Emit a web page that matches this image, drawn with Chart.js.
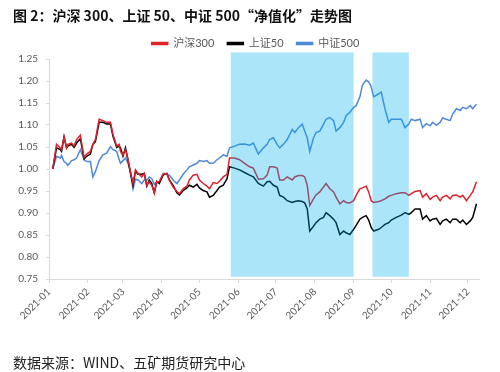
<!DOCTYPE html>
<html>
<head>
<meta charset="utf-8">
<script src="https://cdn.jsdelivr.net/npm/chart.js@4/dist/chart.umd.min.js"></script>
<style>
  html, body { margin: 0; padding: 0; background: #fff; }
  #wrap { position: relative; width: 500px; height: 372px; overflow: hidden; }
  #title { position: absolute; left: 13px; top: 5px; font: bold 14px "Noto Sans CJK SC", sans-serif; color: #111; white-space: nowrap; }
  #source { position: absolute; left: 13px; top: 352px; font: 14px "Noto Sans CJK SC", sans-serif; color: #222; white-space: nowrap; }
  canvas { position: absolute; left: 0; top: 0; }
</style>
</head>
<body>
<div id="wrap">
  <canvas id="c" width="500" height="372"></canvas>
  <div id="title">图 2：沪深 300、上证 50、中证 500“净值化”走势图</div>
  <div id="source">数据来源：WIND、五矿期货研究中心</div>
</div>
<script>
const seriesNames = ["沪深300", "上证50", "中证500"];
const dates = ["2021-01-04","2021-01-07","2021-01-10","2021-01-11","2021-01-13","2021-01-15","2021-01-16","2021-01-19","2021-01-21","2021-01-23","2021-01-26","2021-01-29","2021-01-31",
"2021-02-03","2021-02-05","2021-02-07","2021-02-10","2021-02-13","2021-02-16","2021-02-19","2021-02-21","2021-02-24","2021-02-26","2021-02-27",
"2021-03-01","2021-03-03","2021-03-05","2021-03-07","2021-03-09","2021-03-11","2021-03-13","2021-03-16","2021-03-18","2021-03-20","2021-03-22","2021-03-24","2021-03-26","2021-03-28","2021-03-30",
"2021-04-02","2021-04-05","2021-04-07","2021-04-10","2021-04-13","2021-04-15","2021-04-18","2021-04-21","2021-04-23","2021-04-26","2021-04-29",
"2021-05-01","2021-05-04","2021-05-07","2021-05-09","2021-05-12","2021-05-15","2021-05-17","2021-05-20","2021-05-23","2021-05-25",
"2021-05-29",
"2021-06-02","2021-06-06","2021-06-10","2021-06-13","2021-06-17","2021-06-21","2021-06-24","2021-06-26","2021-06-29",
"2021-07-02","2021-07-04","2021-07-07","2021-07-10","2021-07-14","2021-07-16","2021-07-19","2021-07-22","2021-07-24","2021-07-26","2021-07-28","2021-07-31",
"2021-08-02","2021-08-05","2021-08-08","2021-08-10","2021-08-13","2021-08-16","2021-08-18","2021-08-21","2021-08-24","2021-08-26","2021-08-29",
"2021-09-01","2021-09-03","2021-09-06","2021-09-08","2021-09-11","2021-09-13","2021-09-15","2021-09-17","2021-09-21","2021-09-23","2021-09-26","2021-09-29",
"2021-10-01","2021-10-05","2021-10-09","2021-10-12","2021-10-15","2021-10-17","2021-10-20","2021-10-24","2021-10-26","2021-10-29",
"2021-11-01","2021-11-03","2021-11-06","2021-11-09","2021-11-11","2021-11-14","2021-11-17","2021-11-19","2021-11-22","2021-11-25","2021-11-27","2021-11-30",
"2021-12-03","2021-12-05","2021-12-08"];

const hs300 = [1.000,1.056,1.048,1.044,1.073,1.048,1.056,1.059,1.052,1.067,1.077,1.026,1.034,
1.040,1.056,1.067,1.113,1.110,1.106,1.106,1.079,1.052,1.056,1.040,
1.032,1.044,1.021,0.994,0.967,0.998,0.990,0.982,0.990,0.963,0.971,0.963,0.946,0.971,0.971,
0.988,0.990,0.975,0.959,0.949,0.944,0.955,0.961,0.975,0.986,0.988,
0.975,0.967,0.961,0.955,0.969,0.967,0.972,0.982,0.988,1.025,
1.025,
1.021,1.013,1.005,1.002,0.977,0.978,0.986,1.005,1.005,
1.002,0.975,0.975,0.982,0.975,0.982,0.985,0.985,0.982,0.963,0.917,0.932,
0.941,0.948,0.959,0.967,0.955,0.948,0.936,0.921,0.928,0.924,0.923,
0.928,0.940,0.955,0.957,0.961,0.948,0.928,0.924,0.926,0.928,0.932,0.938,
0.940,0.944,0.946,0.946,0.940,0.944,0.949,0.951,0.936,0.944,
0.931,0.936,0.940,0.928,0.936,0.940,0.932,0.940,0.941,0.936,0.940,0.928,
0.940,0.948,0.971];

const sz50 = [1.000,1.048,1.044,1.040,1.073,1.048,1.052,1.056,1.049,1.059,1.069,1.023,1.029,
1.034,1.056,1.062,1.106,1.106,1.102,1.102,1.075,1.049,1.052,1.048,
1.029,1.048,1.021,0.990,0.963,0.995,0.988,0.988,0.990,0.961,0.975,0.967,0.946,0.972,0.967,
0.986,0.990,0.975,0.963,0.946,0.941,0.951,0.957,0.963,0.959,0.965,
0.957,0.951,0.948,0.936,0.940,0.951,0.959,0.963,0.978,1.005,
1.002,
0.998,0.992,0.986,0.982,0.967,0.961,0.971,0.972,0.963,
0.959,0.940,0.936,0.928,0.924,0.926,0.928,0.926,0.923,0.909,0.859,0.870,
0.878,0.886,0.890,0.901,0.894,0.886,0.878,0.851,0.859,0.855,0.851,
0.863,0.872,0.886,0.890,0.894,0.884,0.867,0.859,0.863,0.867,0.874,0.878,
0.884,0.890,0.895,0.901,0.897,0.901,0.909,0.909,0.886,0.894,
0.882,0.886,0.888,0.874,0.882,0.886,0.878,0.886,0.886,0.878,0.884,0.874,
0.882,0.890,0.921];

const zz500 = [1.000,1.029,1.025,1.031,1.017,1.013,1.008,1.019,1.021,1.025,1.044,1.021,1.017,
1.017,0.982,0.994,1.019,1.032,1.036,1.051,1.044,1.040,1.021,1.013,
1.019,1.025,1.013,0.994,0.955,0.977,0.975,0.967,0.975,0.975,0.982,0.978,0.965,0.971,0.971,
0.990,0.988,0.986,0.975,0.967,0.975,0.988,0.998,1.005,1.009,1.013,
1.019,1.017,1.019,1.013,1.013,1.021,1.025,1.032,1.029,1.048,
1.052,
1.056,1.057,1.054,1.059,1.034,1.048,1.056,1.067,1.071,
1.056,1.048,1.056,1.067,1.090,1.083,1.094,1.102,1.086,1.071,1.040,1.071,
1.083,1.086,1.102,1.113,1.117,1.110,1.086,1.094,1.106,1.121,1.129,
1.140,1.144,1.164,1.191,1.202,1.198,1.187,1.164,1.171,1.175,1.137,1.106,
1.113,1.113,1.113,1.094,1.102,1.113,1.110,1.113,1.094,1.103,
1.098,1.106,1.100,1.106,1.116,1.113,1.110,1.125,1.137,1.133,1.140,1.137,
1.144,1.137,1.147];

const tickMonths = ["2021-01","2021-02","2021-03","2021-04","2021-05","2021-06","2021-07","2021-08","2021-09","2021-10","2021-11","2021-12"];
const shadeStart = ["2021-05-26", "2021-09-16"];
const shadeEnd = ["2021-09-01", "2021-10-15"];
const shadeTop = 1.265, shadeBottom = 0.755;
const yMin = 0.75, yMax = 1.25, yStep = 0.05;
const xEndDate = "2021-12-10";

const dayOf = s => {
  const p = s.split("-").map(Number);
  return (Date.UTC(p[0], p[1] - 1, p[2] || 1) - Date.UTC(2021, 0, 1)) / 86400000;
};
const tickDays = tickMonths.map(dayOf);
const pts = arr => arr.map((v, i) => ({ x: dayOf(dates[i]), y: v }));

const bandPlugin = {
  id: 'bands',
  afterDatasetsDraw(chart) {
    const { ctx, scales: { x, y } } = chart;
    ctx.save();
    ctx.fillStyle = 'rgba(0,176,240,0.33)';
    for (let i = 0; i < shadeStart.length; i++) {
      const x0 = x.getPixelForValue(dayOf(shadeStart[i]));
      const x1 = x.getPixelForValue(dayOf(shadeEnd[i]));
      const y0 = y.getPixelForValue(shadeTop);
      const y1 = y.getPixelForValue(shadeBottom);
      ctx.fillRect(x0, y0, x1 - x0, y1 - y0);
    }
    ctx.restore();
  }
};

// nudge the legend so it is centred like the original
const legendShift = {
  id: 'legendShift',
  afterLayout(chart) {
    const lg = chart.legend;
    if (lg) { lg.left += 16; lg.right += 16; }
  }
};

const colors = ['#e0202a', '#000000', '#4f88d6'];
const series = [hs300, sz50, zz500];
const fontFam = 'Lato, "Noto Sans CJK SC", sans-serif';

new Chart(document.getElementById('c'), {
  type: 'line',
  data: {
    datasets: series.map((s, i) => ({
      label: seriesNames[i],
      data: pts(s),
      borderColor: colors[i],
      backgroundColor: colors[i],
      borderWidth: 1.5,
      pointRadius: 0,
      tension: 0,
      fill: false
    }))
  },
  options: {
    responsive: false,
    animation: false,
    events: [],
    layout: { padding: { top: 25, right: 21, bottom: 0, left: 0 } },
    plugins: {
      legend: {
        display: true,
        position: 'top',
        labels: {
          boxWidth: 16, boxHeight: 2, padding: 13,
          color: '#595959',
          font: { size: 11, family: fontFam }
        }
      },
      tooltip: { enabled: false }
    },
    scales: {
      x: {
        type: 'linear',
        min: 0,
        max: dayOf(xEndDate),
        afterFit(scale) { scale.height = 93; },
        afterBuildTicks(axis) { axis.ticks = tickDays.map(v => ({ value: v })); },
        ticks: {
          autoSkip: false,
          minRotation: 45, maxRotation: 45,
          color: '#595959',
          font: { size: 10, family: fontFam },
          callback: (v) => tickMonths[tickDays.indexOf(v)]
        },
        grid: { display: true, drawOnChartArea: false, drawTicks: true, tickLength: 4, color: '#d9d9d9' },
        border: { display: true, color: '#d9d9d9' }
      },
      y: {
        min: yMin, max: yMax,
        afterFit(scale) { scale.width = 49; },
        ticks: {
          stepSize: yStep,
          padding: 8,
          color: '#595959',
          font: { size: 10, family: fontFam },
          callback: v => Number(v).toFixed(2)
        },
        grid: { display: true, drawOnChartArea: false, drawTicks: true, tickLength: 3, color: '#d9d9d9' },
        border: { display: true, color: '#d9d9d9' }
      }
    }
  },
  plugins: [bandPlugin, legendShift]
});
</script>
</body>
</html>
